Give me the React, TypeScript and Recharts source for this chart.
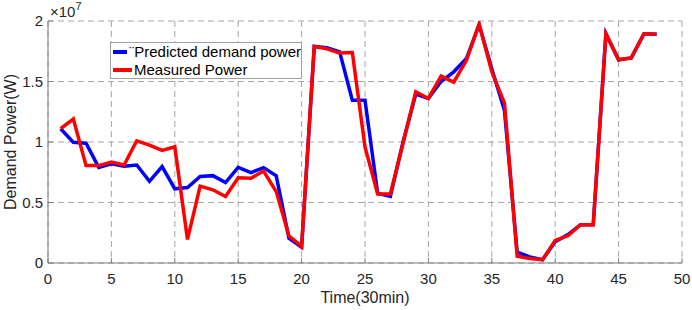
import { LineChart, Line, XAxis, YAxis, CartesianGrid } from "recharts";

const times = [
  1, 2, 3, 4, 5, 6, 7, 8, 9, 10, 11, 12, 13, 14, 15, 16, 17, 18, 19, 20, 21, 22, 23, 24,
  25, 26, 27, 28, 29, 30, 31, 32, 33, 34, 35, 36, 37, 38, 39, 40, 41, 42, 43, 44, 45, 46, 47, 48,
];

// values in units of 1e6 W
const predicted = [
  11.1, 9.97, 9.9, 7.9, 8.2, 8.0, 8.1, 6.75, 7.97, 6.13, 6.23, 7.15, 7.22, 6.65, 7.9, 7.47,
  7.88, 7.2, 2.05, 1.3, 17.9, 17.8, 17.45, 13.45, 13.45, 5.75, 5.5, 10.0, 13.95, 13.6, 15.0,
  15.8, 16.9, 19.7, 16.05, 12.6, 0.9, 0.5, 0.27, 1.75, 2.35, 3.16, 3.16, 18.95, 16.8, 16.95,
  18.95, 18.9,
];

const measured = [
  11.1, 11.9, 8.05, 8.05, 8.35, 8.1, 10.1, 9.75, 9.3, 9.6, 1.95, 6.35, 6.05, 5.5, 7.05, 7.0,
  7.6, 5.9, 2.25, 1.37, 17.9, 17.7, 17.35, 17.4, 9.6, 5.7, 5.7, 9.9, 14.15, 13.6, 15.45,
  14.95, 16.75, 19.75, 15.8, 13.2, 0.55, 0.38, 0.27, 1.87, 2.25, 3.16, 3.16, 18.95, 16.8,
  16.95, 18.95, 18.9,
];

const xTicks = [0, 5, 10, 15, 20, 25, 30, 35, 40, 45, 50];
const yTicks = [0, 5e6, 1e7, 1.5e7, 2e7];
const yTickLabels = ["0", "0.5", "1", "1.5", "2"];

const data = times.map((t, i) => ({
  t,
  predicted: predicted[i] * 1e6,
  measured: measured[i] * 1e6,
}));

const FONT = "'Liberation Sans', Arial, Helvetica, sans-serif";
const LABEL = "#262626";
const AXIS = "#808080";

const BottomTick = (props: any) => {
  const { x, y, payload } = props;
  return (
    <g>
      <line x1={x} x2={x} y1={y} y2={y - 5} stroke={AXIS} strokeWidth={1} />
      <text x={x} y={y + 21} textAnchor="middle" fill={LABEL} fontSize={15} fontFamily={FONT}>
        {payload.value}
      </text>
    </g>
  );
};

const TopTick = (props: any) => {
  const { x, y } = props;
  return <line x1={x} x2={x} y1={y} y2={y + 5} stroke={AXIS} strokeWidth={1} />;
};

const LeftTick = (props: any) => {
  const { x, y, payload } = props;
  const idx = yTicks.indexOf(payload.value);
  return (
    <g>
      <line x1={x} x2={x + 5} y1={y} y2={y} stroke={AXIS} strokeWidth={1} />
      <text x={x - 5} y={y + 5} textAnchor="end" fill={LABEL} fontSize={15} fontFamily={FONT}>
        {yTickLabels[idx]}
      </text>
    </g>
  );
};

const RightTick = (props: any) => {
  const { x, y } = props;
  return <line x1={x} x2={x - 5} y1={y} y2={y} stroke={AXIS} strokeWidth={1} />;
};

const LegendBox = () => (
  <div
    style={{
      position: "absolute",
      left: 110,
      top: 42,
      width: 188,
      height: 35,
      border: "1px solid #a0a0a0",
      background: "#fff",
      padding: "0 0 0 2px",
      fontFamily: FONT,
      fontSize: 15,
      color: "#000",
      lineHeight: "18px",
      whiteSpace: "nowrap",
    }}
  >
    <div style={{ display: "flex", alignItems: "center" }}>
      <span style={{ width: 19, height: 4, background: "#0000ff", display: "inline-block", marginRight: 2 }} />
      <span>¨Predicted demand power</span>
    </div>
    <div style={{ display: "flex", alignItems: "center" }}>
      <span style={{ width: 19, height: 4, background: "#ff0000", display: "inline-block", marginRight: 2 }} />
      <span>Measured Power</span>
    </div>
  </div>
);

export default function App() {
  return (
    <div style={{ position: "absolute", left: 0, top: 0, width: 692, height: 310, background: "#fff" }}>
      <LineChart width={692} height={310} data={data} margin={{ top: 21, right: 10, left: 0, bottom: 0 }}>
        <CartesianGrid stroke="#a6a6a6" strokeDasharray="6 4" strokeWidth={1} />
        <XAxis
          dataKey="t"
          type="number"
          domain={[0, 50]}
          ticks={xTicks}
          height={47}
          axisLine={{ stroke: AXIS }}
          tickLine={false}
          tickSize={0}
          tickMargin={0}
          tick={<BottomTick />}
          interval={0}
          allowDataOverflow
        />
        <XAxis
          xAxisId="top"
          orientation="top"
          dataKey="t"
          type="number"
          domain={[0, 50]}
          ticks={xTicks}
          height={0}
          axisLine={{ stroke: AXIS }}
          tickLine={false}
          tickSize={0}
          tickMargin={0}
          tick={<TopTick />}
          interval={0}
        />
        <YAxis
          type="number"
          domain={[0, 2e7]}
          ticks={yTicks}
          width={48}
          axisLine={{ stroke: AXIS }}
          tickLine={false}
          tickSize={0}
          tickMargin={0}
          tick={<LeftTick />}
          interval={0}
          allowDataOverflow
        />
        <YAxis
          yAxisId="right"
          orientation="right"
          type="number"
          domain={[0, 2e7]}
          ticks={yTicks}
          width={0}
          axisLine={{ stroke: AXIS }}
          tickLine={false}
          tickSize={0}
          tickMargin={0}
          tick={<RightTick />}
          interval={0}
        />
        <Line
          type="linear"
          dataKey="predicted"
          stroke="#0000ff"
          strokeWidth={3.5}
          dot={false}
          isAnimationActive={false}
        />
        <Line
          type="linear"
          dataKey="measured"
          stroke="#ff0000"
          strokeWidth={3.5}
          dot={false}
          isAnimationActive={false}
        />
        <text x={50} y={17} fill={LABEL} fontSize={15} fontFamily={FONT}>
          ×10
          <tspan dy={-7} fontSize={11}>
            7
          </tspan>
        </text>
        <text x={365} y={303} textAnchor="middle" fill={LABEL} fontSize={16} fontFamily={FONT}>
          Time(30min)
        </text>
        <text
          x={16}
          y={142}
          textAnchor="middle"
          fill={LABEL}
          fontSize={16}
          fontFamily={FONT}
          transform="rotate(-90 16 142)"
        >
          Demand Power(W)
        </text>
      </LineChart>
      <LegendBox />
    </div>
  );
}
